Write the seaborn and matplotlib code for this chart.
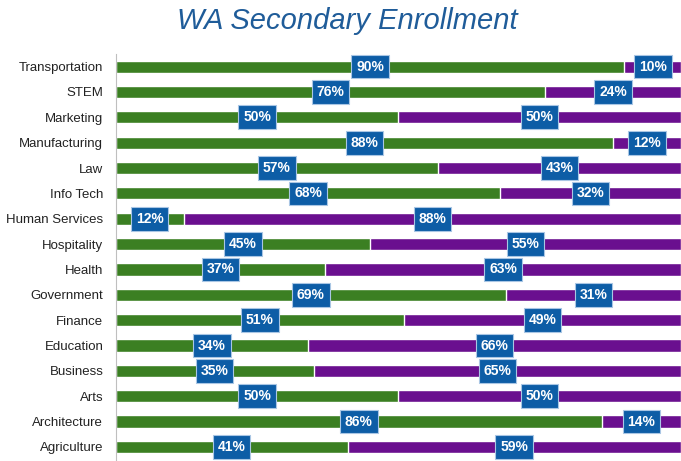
import matplotlib.pyplot as plt
import pandas as pd
import seaborn as sns
from matplotlib.ticker import FixedLocator

# WA secondary enrollment shares (%), top to bottom as drawn
categories = ["Transportation", "STEM", "Marketing", "Manufacturing", "Law",
              "Info Tech", "Human Services", "Hospitality", "Health", "Government",
              "Finance", "Education", "Business", "Arts", "Architecture", "Agriculture"]
green_pct = [90, 76, 50, 88, 57, 68, 12, 45, 37, 69, 51, 34, 35, 50, 86, 41]
purple_pct = [10, 24, 50, 12, 43, 32, 88, 55, 63, 31, 49, 66, 65, 50, 14, 59]

GREEN = "#3B7F22"
PURPLE = "#6A0F8F"
BOX = "#0D5DA6"

sns.set_style("white")
plt.rcParams["font.family"] = ["Liberation Sans", "DejaVu Sans"]

df = pd.DataFrame({"category": categories, "green": green_pct, "purple": purple_pct})
df["total"] = df["green"] + df["purple"]

fig = plt.figure(figsize=(6.81, 4.61), dpi=100)
ax = fig.add_axes([0.170, 0.003, 0.830, 0.880])

sns.barplot(data=df, y="category", x="total", color=PURPLE, width=0.48,
            saturation=1, ax=ax, orient="h")
sns.barplot(data=df, y="category", x="green", color=GREEN, width=0.48,
            saturation=1, ax=ax, orient="h")

box = dict(boxstyle="square,pad=0.35", facecolor=BOX, edgecolor="#A9C6E4", linewidth=0.8)
for i, (g, p) in enumerate(zip(green_pct, purple_pct)):
    ax.text(g / 2, i, f"{g}%", ha="center", va="center", color="white",
            fontsize=10, fontweight="bold", bbox=box, zorder=5)
    ax.text(g + p / 2, i, f"{p}%", ha="center", va="center", color="white",
            fontsize=10, fontweight="bold", bbox=box, zorder=5)

ax.set_xlim(0, 100)
ax.set_ylim(len(categories) - 0.5, -0.5)
ax.set_xlabel("")
ax.set_ylabel("")
ax.set_xticks([])
ax.tick_params(axis="y", which="major", length=0, labelsize=9.5, colors="#222222", pad=9)
ax.yaxis.set_minor_locator(FixedLocator([i - 0.5 for i in range(len(categories) + 1)]))
ax.tick_params(axis="y", which="minor", length=5, color="#BFBFBF", width=0.8)

for s in ["top", "right", "bottom"]:
    ax.spines[s].set_visible(False)
ax.spines["left"].set_color("#BFBFBF")
ax.spines["left"].set_linewidth(0.8)

fig.suptitle("WA Secondary Enrollment", x=0.51, y=0.985, fontsize=21,
             style="italic", color="#1F5C99")

fig.savefig("out.png", dpi=100)
